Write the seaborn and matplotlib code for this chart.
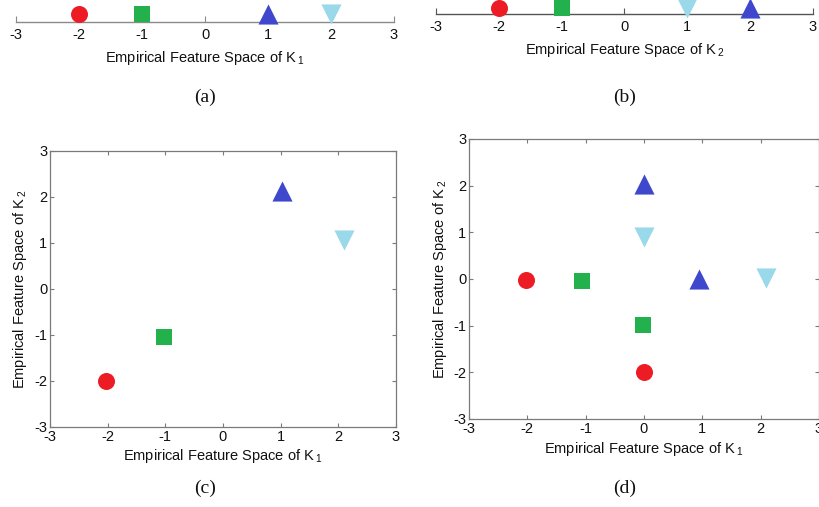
import numpy as np
import pandas as pd
import matplotlib
matplotlib.use("Agg")
import matplotlib.pyplot as plt
import seaborn as sns

# four classes, same marker/colour in every panel
classes = ["circle", "square", "tri_up", "tri_down"]
markers = ["o", "s", "^", "v"]
colors = ["#ED1C24", "#22B14C", "#3F48CC", "#99D9EA"]
sizes = [150, 140, 210, 210]

# (a) 1-D embedding with K1
a_k1 = [-2.0, -1.0, 1.0, 2.0]
# (b) 1-D embedding with K2
b_k2 = [-2.0, -1.0, 2.0, 1.0]
# (c) joint embedding
c_k1 = [-2.03, -1.03, 1.03, 2.09]
c_k2 = [-2.0, -1.04, 2.12, 1.06]
# (d) separate embeddings, two points per class
d_class = ["circle", "circle", "square", "square", "tri_up", "tri_up", "tri_down", "tri_down"]
d_k1 = [-2.03, 0.0, -1.06, -0.01, 0.0, 0.95, 0.0, 2.09]
d_k2 = [-0.02, -2.0, -0.05, -0.99, 2.03, -0.01, 0.91, 0.02]

ticks = [-3, -2, -1, 0, 1, 2, 3]
tick_labels = ["-3", "-2", "-1", "0", "1", "2", "3"]

sns.set_theme(style="white")
plt.rcParams["font.family"] = ["Liberation Sans", "DejaVu Sans"]
plt.rcParams["mathtext.fontset"] = "custom"
plt.rcParams["mathtext.rm"] = "Liberation Sans"
plt.rcParams["mathtext.it"] = "Liberation Sans:italic"

lab1 = r"Empirical Feature Space of K$\,_{1}$"
lab2 = r"Empirical Feature Space of K$\,_{2}$"

fig = plt.figure(figsize=(8.2, 5.07), dpi=100)


def draw(ax, df):
    for cls, m, c, s in zip(classes, markers, colors, sizes):
        sub = df[df["cls"] == cls]
        sns.scatterplot(data=sub, x="x", y="y", marker=m, color=c, s=s,
                        linewidth=0, ax=ax, legend=False, clip_on=False, zorder=3)


def style_box(ax):
    ax.set_xlim(-3, 3)
    ax.set_ylim(-3, 3)
    ax.set_xticks(ticks)
    ax.set_xticklabels(tick_labels)
    ax.set_yticks(ticks)
    ax.set_yticklabels(tick_labels)
    for sp in ax.spines.values():
        sp.set_visible(True)
        sp.set_color("#7a7a7a")
        sp.set_linewidth(0.9)
    ax.tick_params(direction="in", length=3, width=0.8, color="#7a7a7a",
                   top=True, right=True, bottom=True, left=True,
                   labelsize=10.5, pad=2, labelcolor="#111111")


def style_line(ax, lab, color):
    ax.set_xlim(-3, 3)
    ax.set_ylim(-0.6, 1.0)
    ax.set_xticks(ticks)
    ax.set_xticklabels(tick_labels)
    ax.set_yticks([])
    for k in ["left", "right", "top"]:
        ax.spines[k].set_visible(False)
    ax.spines["bottom"].set_color(color)
    ax.spines["bottom"].set_linewidth(1.0)
    ax.tick_params(axis="x", direction="in", length=4, width=0.8, color=color,
                   labelsize=10.5, pad=4.5, labelcolor="#111111", bottom=True)
    ax.set_xlabel(lab, fontsize=10.5, labelpad=5, color="#111111")
    ax.set_ylabel("")
    ax.patch.set_alpha(0)


# (a) -- markers sit just above the axis line
ax_a = fig.add_axes([16 / 820, 1 - 22 / 507, 378 / 820, 22 / 507])
df_a = pd.DataFrame({"cls": classes, "x": a_k1, "y": np.zeros(4)})
draw(ax_a, df_a)
style_line(ax_a, lab1, "#8a8a8a")

# (b)
ax_b = fig.add_axes([436 / 820, 1 - 14 / 507, 377 / 820, 14 / 507])
df_b = pd.DataFrame({"cls": classes, "x": b_k2, "y": np.zeros(4)})
draw(ax_b, df_b)
style_line(ax_b, lab2, "#555555")
ax_b.set_ylim(-0.75, 1.0)

# (c)
ax_c = fig.add_axes([50 / 820, 1 - 427 / 507, 346 / 820, 276 / 507])
df_c = pd.DataFrame({"cls": classes, "x": c_k1, "y": c_k2})
draw(ax_c, df_c)
style_box(ax_c)
ax_c.set_xlabel(lab1, fontsize=10.5, labelpad=2, color="#111111")
ax_c.set_ylabel(lab2, fontsize=10.5, labelpad=4, color="#111111")

# (d)
ax_d = fig.add_axes([469 / 820, 1 - 419 / 507, 350 / 820, 280 / 507])
df_d = pd.DataFrame({"cls": d_class, "x": d_k1, "y": d_k2})
draw(ax_d, df_d)
style_box(ax_d)
ax_d.set_xlabel(lab1, fontsize=10.5, labelpad=3, color="#111111")
ax_d.set_ylabel(lab2, fontsize=10.5, labelpad=3, color="#111111")

# panel captions
for txt, (px, py) in zip(["(a)", "(b)", "(c)", "(d)"],
                         [(205, 97), (625, 97), (205, 488), (625, 488)]):
    fig.text(px / 820, 1 - py / 507, txt, ha="center", va="center",
             fontsize=14, family=["Liberation Serif", "DejaVu Serif"], color="#111111")

fig.savefig("out.png", dpi=100)
